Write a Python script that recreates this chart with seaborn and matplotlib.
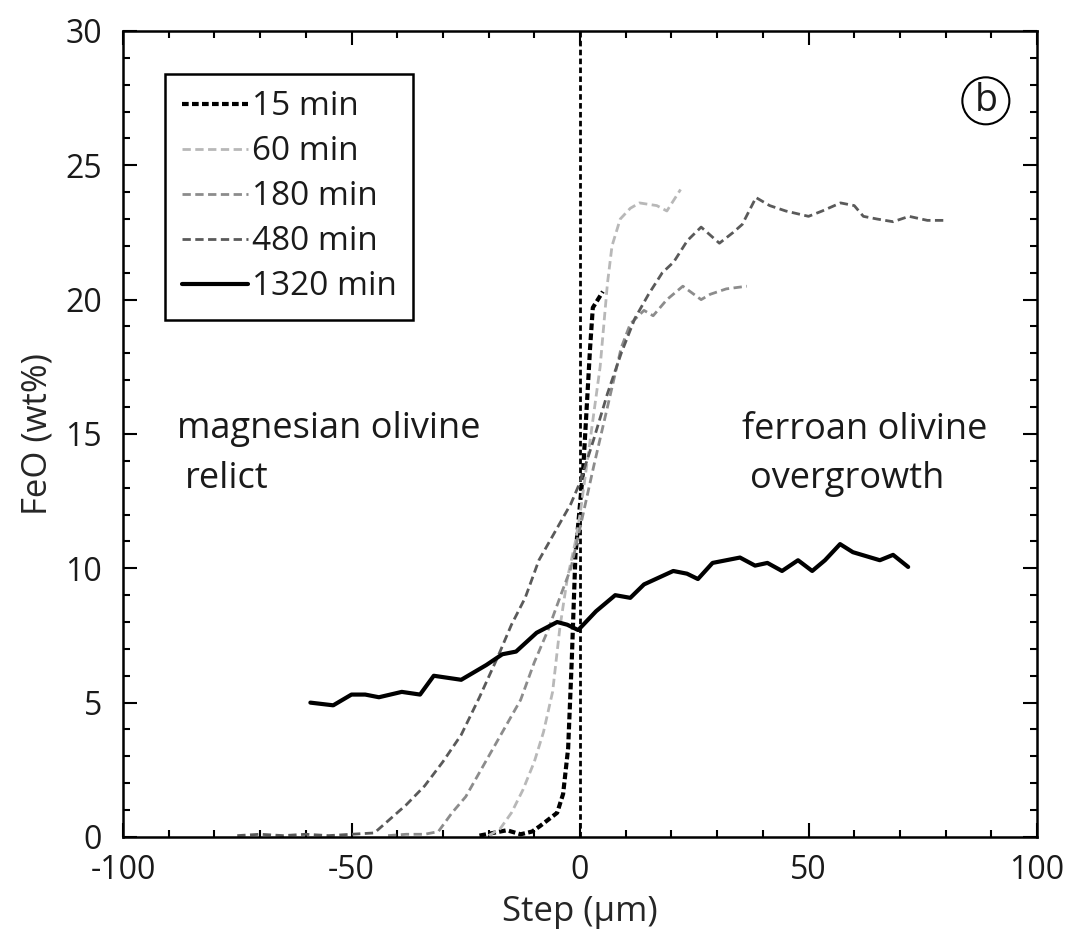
import matplotlib
matplotlib.use("Agg")
import matplotlib.pyplot as plt
import seaborn as sns
from matplotlib.ticker import MultipleLocator

# --- datos ---
x_15 = [-22, -19, -16, -13, -10.5, -8.8, -5, -3.7, -2.6, -1.8, -1.0, 0.7, 2.2, 2.8, 5.0]
y_15 = [0.05, 0.15, 0.25, 0.1, 0.2, 0.4, 0.9, 1.6, 3.3, 6.6, 10.5, 13.7, 18.2, 19.7, 20.3]

x_60 = [-20, -17.5, -15, -12.5, -10, -8, -6, -4.4, -2.8, -1, 0, 2, 4.4, 6, 7, 8.8, 11, 13, 16.8, 19, 22]
y_60 = [0.05, 0.3, 0.9, 1.75, 2.8, 3.9, 5.4, 7.8, 9.6, 11.0, 12.0, 14.5, 17.5, 20.6, 22.0, 23.0, 23.4,
        23.6, 23.5, 23.3, 24.1]

x_180 = [-42, -38, -34, -31, -28, -25, -22, -19, -16, -13, -10, -7, -4, -2, 0, 3, 6, 9, 11, 14, 16, 19,
         22.5, 26.5, 28.5, 32, 36.5]
y_180 = [0.05, 0.1, 0.1, 0.2, 0.9, 1.5, 2.4, 3.3, 4.2, 5.1, 6.5, 7.7, 9.1, 10.0, 11.5, 13.8, 16.0, 18.2,
         19.1, 19.6, 19.4, 20.0, 20.5, 20.0, 20.2, 20.4, 20.5]

x_480 = [-75, -70, -65, -60, -55, -50, -45, -42, -38, -34, -30, -26, -22, -18, -15, -12, -9, -5, -2,
         0, 3, 6, 9, 12, 15, 18, 20.5, 23.5, 26.5, 30.5, 33.5, 35.5, 38.5, 41.5, 45, 50, 53, 57, 60,
         62, 65, 68.5, 72, 76, 80]
y_480 = [0.05, 0.1, 0.05, 0.1, 0.05, 0.1, 0.15, 0.6, 1.2, 1.9, 2.8, 3.8, 5.2, 6.7, 7.9, 8.9, 10.3,
         11.5, 12.4, 13.2, 14.8, 16.5, 18.0, 19.3, 20.2, 21.0, 21.4, 22.2, 22.7, 22.1, 22.5, 22.8,
         23.8, 23.5, 23.3, 23.1, 23.3, 23.6, 23.5, 23.1, 23.0, 22.9, 23.1, 22.95, 22.95]

x_1320 = [-59, -54, -50, -47, -44, -39, -35, -32, -26, -20.5, -17, -14, -9.5, -5, -2.8, -0.4, 3.5,
          7.7, 11, 14, 20.4, 23.4, 25.8, 29, 35, 38.3, 41, 44.2, 47.7, 50.8, 53.6, 56.9, 59.7,
          65.6, 68.5, 71.8]
y_1320 = [5.0, 4.9, 5.3, 5.3, 5.2, 5.4, 5.3, 6.0, 5.85, 6.4, 6.8, 6.9, 7.6, 8.0, 7.9, 7.7, 8.4,
          9.0, 8.9, 9.4, 9.9, 9.8, 9.6, 10.2, 10.4, 10.1, 10.2, 9.9, 10.3, 9.9, 10.3, 10.9, 10.6,
          10.3, 10.5, 10.05]

series = [
    ("15 min", x_15, y_15, "black", 3.0, (0, (1.6, 0.8))),
    ("60 min", x_60, y_60, "#b8b8b8", 2.0, (0, (3, 1.6))),
    ("180 min", x_180, y_180, "#8c8c8c", 2.0, (0, (3, 1.6))),
    ("480 min", x_480, y_480, "#5a5a5a", 2.0, (0, (3, 1.6))),
    ("1320 min", x_1320, y_1320, "black", 3.0, "-"),
]

sns.set_theme(style="ticks")
plt.rcParams["font.family"] = ["Open Sans", "DejaVu Sans"]
plt.rcParams["axes.unicode_minus"] = False
plt.rcParams["text.color"] = "#1a1a1a"

fig = plt.figure(figsize=(10.76, 9.47), dpi=100)
ax = fig.add_axes([0.1143, 0.1162, 0.8495, 0.8511])

# linea de interfase en x=0
ax.axvline(0, color="black", lw=2, linestyle=(0, (2, 1.2)), zorder=1)

for label, xs, ys, col, lw, ls in series:
    sns.lineplot(x=xs, y=ys, ax=ax, color=col, lw=lw, linestyle=ls, label=label,
                 sort=False, estimator=None)

ax.set_xlim(-100, 100)
ax.set_ylim(0, 30)
ax.xaxis.set_major_locator(MultipleLocator(50))
ax.xaxis.set_minor_locator(MultipleLocator(10))
ax.yaxis.set_major_locator(MultipleLocator(5))
ax.yaxis.set_minor_locator(MultipleLocator(1))
ax.tick_params(which="both", direction="in", top=True, right=True, width=1.5, colors="black",
               labelsize=23, labelcolor="#1a1a1a")
ax.tick_params(which="major", length=10)
ax.tick_params(axis="x", which="major", pad=12)
ax.tick_params(axis="y", which="major", pad=15)
ax.tick_params(which="minor", length=5)
for sp in ax.spines.values():
    sp.set_linewidth(1.8)
    sp.set_color("black")

ax.set_xlabel("Step (μm)", fontsize=25, labelpad=6)
ax.set_ylabel("FeO (wt%)", fontsize=25, labelpad=8)

ax.text(-88.2, 14.85, "magnesian olivine", fontsize=26, ha="left", va="baseline")
ax.text(-86.4, 13.0, "relict", fontsize=26, ha="left", va="baseline")
ax.text(35.4, 14.8, "ferroan olivine", fontsize=26, ha="left", va="baseline")
ax.text(37.2, 13.0, "overgrowth", fontsize=26, ha="left", va="baseline")
ax.text(88.8, 27.4, "b", fontsize=27, ha="center", va="center",
        bbox=dict(boxstyle="circle,pad=0.12", fc="white", ec="black", lw=1.5))

leg = ax.legend(loc="upper left", bbox_to_anchor=(0.046, 0.947), fontsize=24,
                handlelength=2.0, handletextpad=0.1, labelspacing=0.36, borderpad=0.5,
                borderaxespad=0, fancybox=False, framealpha=1, edgecolor="black")
leg.get_frame().set_linewidth(1.8)

fig.savefig("out.png", dpi=100)
